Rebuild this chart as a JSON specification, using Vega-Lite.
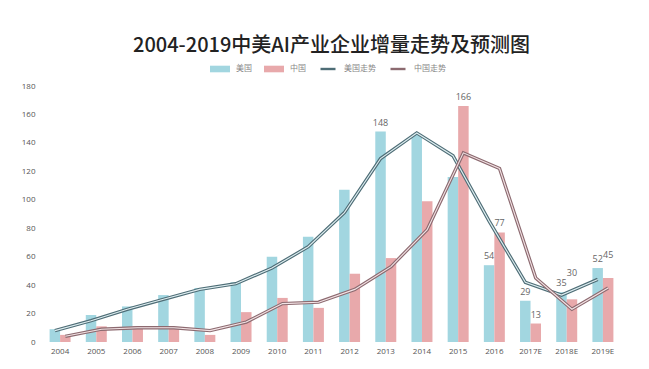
{
  "$schema": "https://vega.github.io/schema/vega-lite/v6.json",
  "width": 579,
  "height": 256,
  "autosize": {"type": "none"},
  "padding": {"left": 42, "top": 86, "right": 28, "bottom": 27},
  "background": "white",
  "config": {
    "view": {"stroke": null},
    "font": "Noto Sans CJK SC",
    "axisY": {
      "labelOverlap": false,
      "labelFont": "Open Sans",
      "labelFontSize": 8,
      "labelBaseline": "middle",
      "labelColor": "#555555",
      "labelPadding": 7,
      "ticks": false,
      "domain": false,
      "grid": false,
      "title": null
    },
    "axisX": {
      "labelOverlap": false,
      "labelFont": "Open Sans",
      "labelAngle": 0,
      "labelFontSize": 8,
      "labelColor": "#555555",
      "labelPadding": 5,
      "ticks": false,
      "domain": false,
      "grid": false,
      "title": null
    }
  },
  "title": {
    "text": "2004-2019中美AI产业企业增量走势及预测图",
    "font": "Noto Sans CJK SC",
    "fontSize": 20,
    "fontWeight": 500,
    "color": "#222222",
    "anchor": "middle",
    "offset": 3
  },
  "data": {
    "values": [
      {"year": "2004", "country": "美国", "value": 9, "trend": 8},
      {"year": "2004", "country": "中国", "value": 5, "trend": 4},
      {"year": "2005", "country": "美国", "value": 19, "trend": 15},
      {"year": "2005", "country": "中国", "value": 11, "trend": 9},
      {"year": "2006", "country": "美国", "value": 25, "trend": 23},
      {"year": "2006", "country": "中国", "value": 11, "trend": 10},
      {"year": "2007", "country": "美国", "value": 33, "trend": 30},
      {"year": "2007", "country": "中国", "value": 10, "trend": 10},
      {"year": "2008", "country": "美国", "value": 38, "trend": 37},
      {"year": "2008", "country": "中国", "value": 5, "trend": 8},
      {"year": "2009", "country": "美国", "value": 42, "trend": 41},
      {"year": "2009", "country": "中国", "value": 21, "trend": 14},
      {"year": "2010", "country": "美国", "value": 60, "trend": 52},
      {"year": "2010", "country": "中国", "value": 31, "trend": 27},
      {"year": "2011", "country": "美国", "value": 74, "trend": 67},
      {"year": "2011", "country": "中国", "value": 24, "trend": 28},
      {"year": "2012", "country": "美国", "value": 107, "trend": 91},
      {"year": "2012", "country": "中国", "value": 48, "trend": 37},
      {"year": "2013", "country": "美国", "value": 148, "trend": 129, "label": "148"},
      {"year": "2013", "country": "中国", "value": 59, "trend": 53},
      {"year": "2014", "country": "美国", "value": 146, "trend": 147},
      {"year": "2014", "country": "中国", "value": 99, "trend": 79},
      {"year": "2015", "country": "美国", "value": 116, "trend": 131},
      {"year": "2015", "country": "中国", "value": 166, "trend": 133, "label": "166"},
      {"year": "2016", "country": "美国", "value": 54, "trend": 85, "label": "54"},
      {"year": "2016", "country": "中国", "value": 77, "trend": 122, "label": "77"},
      {"year": "2017E", "country": "美国", "value": 29, "trend": 42, "label": "29"},
      {"year": "2017E", "country": "中国", "value": 13, "trend": 45, "label": "13"},
      {"year": "2018E", "country": "美国", "value": 35, "trend": 33, "label": "35"},
      {"year": "2018E", "country": "中国", "value": 30, "trend": 23, "label": "30"},
      {"year": "2019E", "country": "美国", "value": 52, "trend": 44, "label": "52"},
      {"year": "2019E", "country": "中国", "value": 45, "trend": 38, "label": "45"}
    ]
  },
  "encoding": {
    "x": {
      "field": "year",
      "type": "nominal",
      "sort": null,
      "scale": {"paddingInner": 0.42, "paddingOuter": 0.21}
    },
    "y": {
      "field": "value",
      "type": "quantitative",
      "scale": {"domain": [0, 180], "nice": false},
      "axis": {"values": [0, 20, 40, 60, 80, 100, 120, 140, 160, 180], "labelOverlap": false}
    }
  },
  "layer": [
    {
      "mark": {"type": "bar"},
      "encoding": {
        "xOffset": {"field": "country", "type": "nominal", "sort": ["美国", "中国"], "scale": {"paddingInner": 0, "paddingOuter": 0}},
        "color": {
          "field": "country",
          "type": "nominal",
          "scale": {
            "domain": ["美国", "中国", "美国走势", "中国走势"],
            "range": ["#a2d6e0", "#e8a9ab", "#4e6d76", "#8c6a70"]
          },
          "legend": {
            "title": null,
            "orient": "none",
            "legendX": 168,
            "legendY": -27,
            "direction": "horizontal",
            "labelFontSize": 8,
            "labelColor": "#888888",
            "labelOffset": 6,
            "columnPadding": 12,
            "symbolSize": 400,
            "encode": {
              "symbols": {
                "update": {
                  "shape": {"signal": "indexof(['美国','中国'], datum.value) >= 0 ? 'M-1,-0.33H1V0.33H-1Z' : 'M-0.75,-0.12H0.75V0.12H-0.75Z'"},
                  "fill": {"scale": "color", "field": "value"},
                  "strokeWidth": {"value": 0},
                  "opacity": {"value": 1}
                }
              }
            }
          }
        }
      }
    },
    {
      "transform": [{"filter": "datum.country === '美国'"}],
      "mark": {"type": "line", "strokeWidth": 3.4, "xOffset": -5.2, "strokeJoin": "miter"},
      "encoding": {
        "y": {"field": "trend", "type": "quantitative", "axis": {"values": [0, 20, 40, 60, 80, 100, 120, 140, 160, 180], "labelOverlap": false}},
        "color": {"datum": "美国走势"}
      }
    },
    {
      "transform": [{"filter": "datum.country === '美国'"}],
      "mark": {"type": "line", "strokeWidth": 1.1, "xOffset": -5.2, "color": "#dfeef1", "strokeJoin": "miter"},
      "encoding": {
        "y": {"field": "trend", "type": "quantitative", "axis": {"values": [0, 20, 40, 60, 80, 100, 120, 140, 160, 180], "labelOverlap": false}}
      }
    },
    {
      "transform": [{"filter": "datum.country === '中国'"}],
      "mark": {"type": "line", "strokeWidth": 3.4, "xOffset": 5.2, "strokeJoin": "miter"},
      "encoding": {
        "y": {"field": "trend", "type": "quantitative", "axis": {"values": [0, 20, 40, 60, 80, 100, 120, 140, 160, 180], "labelOverlap": false}},
        "color": {"datum": "中国走势"}
      }
    },
    {
      "transform": [{"filter": "datum.country === '中国'"}],
      "mark": {"type": "line", "strokeWidth": 1.1, "xOffset": 5.2, "color": "#f3e3e5", "strokeJoin": "miter"},
      "encoding": {
        "y": {"field": "trend", "type": "quantitative", "axis": {"values": [0, 20, 40, 60, 80, 100, 120, 140, 160, 180], "labelOverlap": false}}
      }
    },
    {
      "transform": [{"filter": "isValid(datum.label)"}],
      "mark": {"type": "text", "dy": {"expr": "datum.label === '30' ? -26 : datum.label === '45' ? -23 : -9"}, "fontSize": 9, "font": "Open Sans", "color": "#666666"},
      "encoding": {
        "xOffset": {"field": "country", "type": "nominal", "sort": ["美国", "中国"]},
        "text": {"field": "label"}
      }
    }
  ]
}
